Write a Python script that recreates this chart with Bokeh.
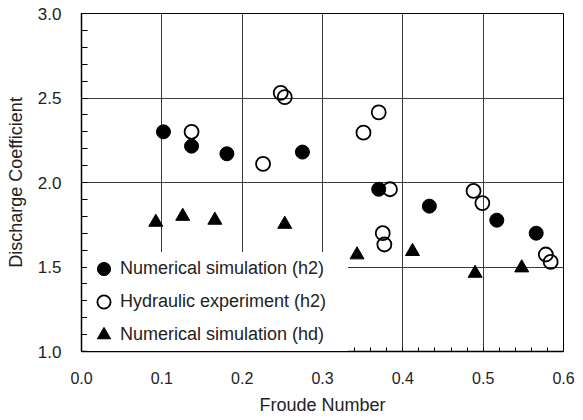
from bokeh.plotting import figure
from bokeh.models import (FixedTicker, PrintfTickFormatter, Legend, LegendItem, Range1d)
from bokeh.embed import file_html
from bokeh.resources import INLINE

# ---- data ----
num_h2_x = [0.102, 0.137, 0.181, 0.275, 0.370, 0.433, 0.517, 0.566]
num_h2_y = [2.30, 2.215, 2.17, 2.18, 1.96, 1.86, 1.777, 1.70]

exp_h2_x = [0.137, 0.226, 0.248, 0.253, 0.351, 0.370, 0.384, 0.488, 0.499, 0.375, 0.377, 0.578, 0.584]
exp_h2_y = [2.30, 2.11, 2.53, 2.505, 2.295, 2.415, 1.96, 1.95, 1.878, 1.70, 1.633, 1.574, 1.53]

num_hd_x = [0.0925, 0.126, 0.166, 0.253, 0.343, 0.412, 0.490, 0.548]
num_hd_y = [1.765, 1.80, 1.777, 1.753, 1.572, 1.592, 1.463, 1.495]

x_ticks = [0.0, 0.1, 0.2, 0.3, 0.4, 0.5, 0.6]
x_minor = [round(0.02 * i, 2) for i in range(31)]
y_ticks = [1.0, 1.5, 2.0, 2.5, 3.0]
y_minor = [round(1.0 + 0.1 * i, 1) for i in range(21)]

labels = ["Numerical simulation (h2)", "Hydraulic experiment (h2)", "Numerical simulation (hd)"]

FONT = "Liberation Sans"

p = figure(width=583, height=420, output_backend="svg", toolbar_location=None,
           x_range=Range1d(0, 0.6), y_range=Range1d(1.0, 3.0),
           min_border_left=81, min_border_right=20, min_border_top=13, min_border_bottom=69,
           background_fill_color="white", border_fill_color="white")

p.outline_line_color = "black"
p.outline_line_width = 1

# axes
p.xaxis.ticker = FixedTicker(ticks=x_ticks, minor_ticks=x_minor)
p.yaxis.ticker = FixedTicker(ticks=y_ticks, minor_ticks=y_minor)
p.xaxis.formatter = PrintfTickFormatter(format="%.1f")
p.yaxis.formatter = PrintfTickFormatter(format="%.1f")

for ax in (p.xaxis[0], p.yaxis[0]):
    ax.axis_line_color = "black"
    ax.axis_line_width = 1.5
    ax.major_tick_line_color = "black"
    ax.minor_tick_line_color = "black"
    ax.major_tick_out = 0
    ax.minor_tick_out = 0
    ax.major_label_text_font = FONT
    ax.axis_label_text_font = FONT
    ax.axis_label_text_font_style = "normal"
    ax.major_label_text_color = "#222222"
    ax.axis_label_text_color = "#222222"

p.xaxis.major_tick_in = 4
p.xaxis.minor_tick_in = 4
p.yaxis.major_tick_in = 6
p.yaxis.minor_tick_in = 6

p.xaxis.major_label_text_font_size = "16px"
p.yaxis.major_label_text_font_size = "17px"
p.xaxis.major_label_standoff = 20
p.yaxis.major_label_standoff = 20

p.xaxis.axis_label = "Froude Number"
p.yaxis.axis_label = "Discharge Coefficient"
p.xaxis.axis_label_text_font_size = "18px"
p.yaxis.axis_label_text_font_size = "18px"
p.xaxis.axis_label_standoff = 8
p.yaxis.axis_label_standoff = 9

# grid
p.xgrid.ticker = FixedTicker(ticks=x_ticks)
p.ygrid.ticker = FixedTicker(ticks=y_ticks)
p.grid.grid_line_color = "#3a3a3a"
p.grid.grid_line_width = 1

# data
r1 = p.scatter(num_h2_x, num_h2_y, marker="circle", size=14,
               fill_color="black", line_color="black", line_width=1)
r2 = p.scatter(exp_h2_x, exp_h2_y, marker="circle", size=14,
               fill_color=None, line_color="black", line_width=1.8)
r3 = p.scatter(num_hd_x, num_hd_y, marker="triangle", size=14,
               fill_color="black", line_color="black", line_width=1)

legend = Legend(items=[LegendItem(label=labels[0], renderers=[r1]),
                       LegendItem(label=labels[1], renderers=[r2]),
                       LegendItem(label=labels[2], renderers=[r3])],
                location=(6, 0), orientation="vertical",
                padding=4, margin=0, spacing=-1,
                glyph_width=33, glyph_height=33, label_standoff=-4,
                label_width=228, label_height=20,
                label_text_font=FONT, label_text_font_size="18px",
                label_text_color="#222222",
                background_fill_color="white", background_fill_alpha=1.0,
                border_line_color=None)
p.add_layout(legend, "center")

open("out.html", "w").write(file_html(p, INLINE))
